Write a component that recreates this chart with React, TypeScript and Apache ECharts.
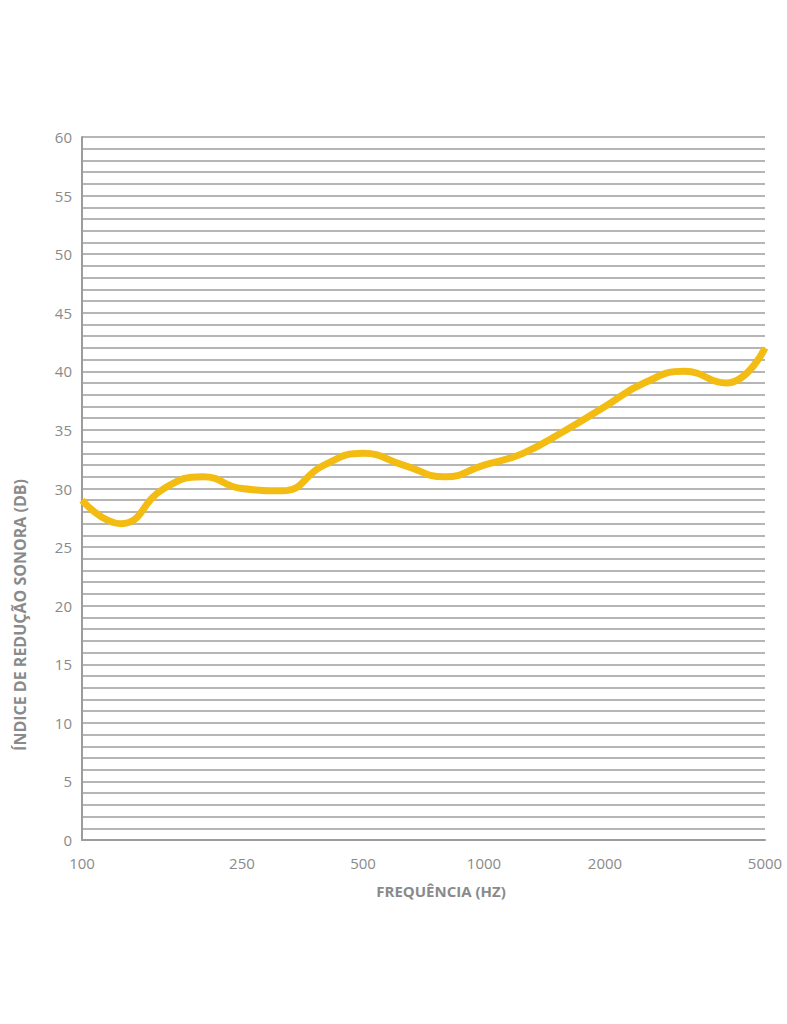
import React, { useEffect, useRef } from "react";
import * as echarts from "echarts";

const frequencies = [100, 125, 160, 200, 250, 315, 400, 500, 630, 800, 1000, 1250, 1600, 2000, 2500, 3150, 4000, 5000];
const reductionIndex = [29, 27, 30, 31, 30, 29.8, 32, 33, 32, 31, 32, 33, 35, 37, 39, 40, 39, 42];
const xTickLabels = [100, 250, 500, 1000, 2000, 5000];
const xTitle = "FREQUÊNCIA (HZ)";
const yTitle = "ÍNDICE DE REDUÇÃO SONORA (DB)";

const gray = "#9c9c9c";
const labelColor = "#8a8a8a";
const font = "'Open Sans', 'Noto Sans', sans-serif";

export default function App() {
  const ref = useRef<HTMLDivElement>(null);
  useEffect(() => {
    if (!ref.current) return;
    const chart = echarts.init(ref.current, undefined, { renderer: "svg" });
    chart.setOption({
      animation: false,
      backgroundColor: "#ffffff",
      grid: { left: 82, right: 22, top: 137, bottom: 184, containLabel: false },
      xAxis: {
        type: "log",
        logBase: 10,
        min: 100,
        max: 5000,
        axisLine: { show: true, lineStyle: { color: gray, width: 2 } },
        axisTick: { show: false },
        splitLine: { show: false },
        minorSplitLine: { show: false },
        axisLabel: {
          customValues: xTickLabels,
          color: labelColor,
          fontSize: 15,
          fontFamily: font,
          margin: 15,
          formatter: (v: number) => String(Math.round(v)),
        },
      },
      yAxis: {
        type: "value",
        min: 0,
        max: 60,
        interval: 5,
        axisLine: { show: true, lineStyle: { color: gray, width: 2 } },
        axisTick: { show: false },
        axisLabel: { color: labelColor, fontSize: 15, fontFamily: font, margin: 10 },
        splitLine: { show: true, lineStyle: { color: gray, width: 1.6 } },
        minorTick: { show: false, splitNumber: 5 },
        minorSplitLine: { show: true, lineStyle: { color: gray, width: 1.6 } },
      },
      series: [
        {
          type: "line",
          smooth: 0.5,
          symbol: "none",
          data: frequencies.map((f, i) => [f, reductionIndex[i]]),
          lineStyle: { color: "#F3BC12", width: 7 },
          z: 5,
        },
      ],
      graphic: [
        {
          type: "text",
          x: 441,
          y: 891,
          style: {
            text: xTitle,
            fill: labelColor,
            font: `bold 15px ${font}`,
            align: "center",
            verticalAlign: "middle",
          },
        },
        {
          type: "text",
          x: 20,
          y: 615,
          rotation: Math.PI / 2,
          style: {
            text: yTitle,
            fill: labelColor,
            font: `bold 16px ${font}`,
            align: "center",
            verticalAlign: "middle",
          },
        },
      ],
    });
    return () => chart.dispose();
  }, []);
  return (
    <div
      ref={ref}
      style={{ position: "absolute", left: 0, top: 0, width: 787, height: 1024 }}
    />
  );
}
